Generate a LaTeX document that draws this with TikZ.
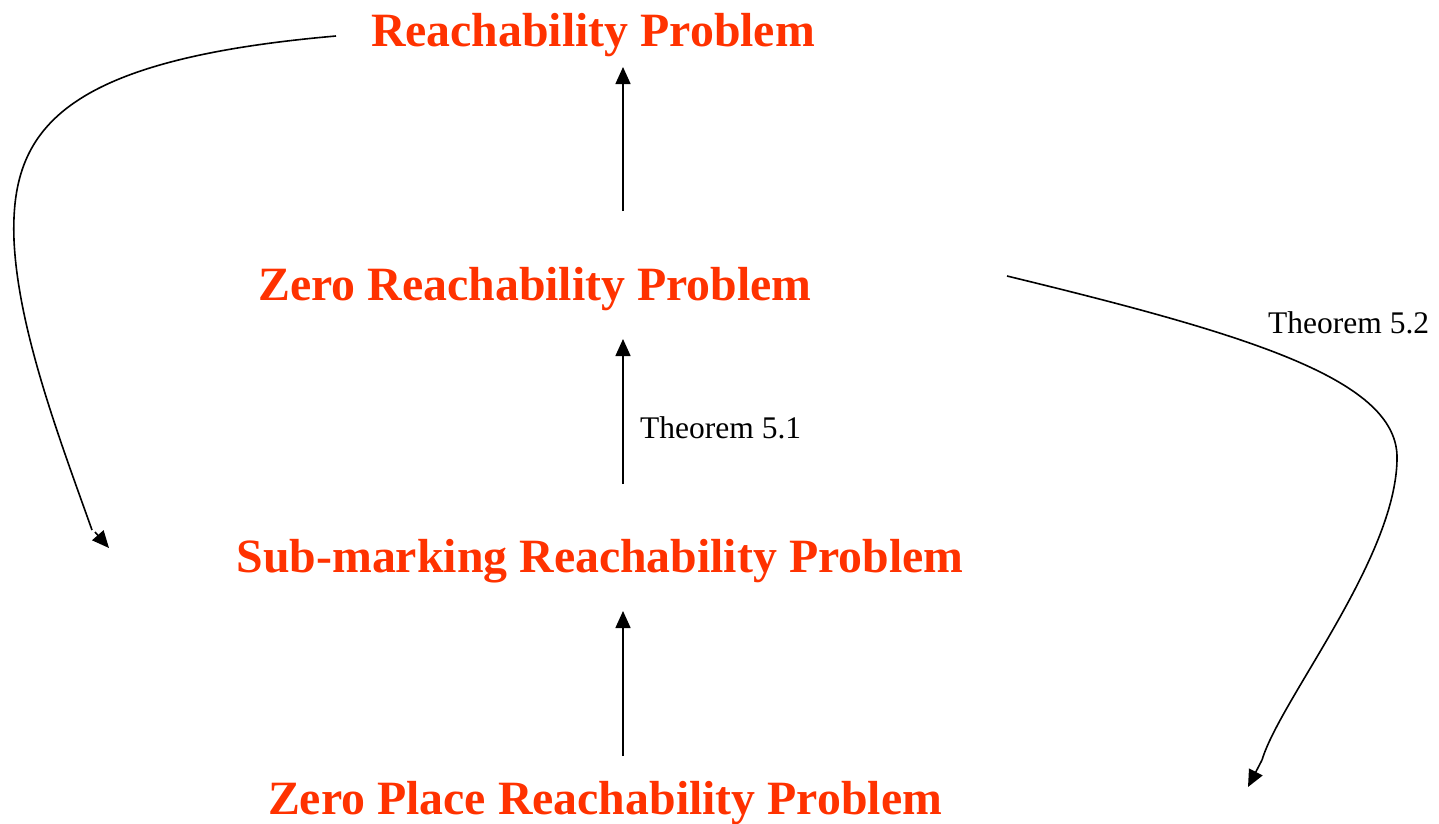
\documentclass[tikz,border=0pt]{standalone}
\usepackage{fontspec}
\setmainfont{Liberation Serif}
\usetikzlibrary{arrows.meta}
\definecolor{probred}{RGB}{255,50,0}
\begin{document}
\begin{tikzpicture}[x=1pt,y=-1pt,
  prob/.style={anchor=base,text=probred,font=\fontsize{47.8}{50}\selectfont\bfseries,inner sep=0pt},
  thm/.style={anchor=base west,font=\fontsize{31.5}{34}\selectfont,inner sep=0pt},
  conn/.style={line width=1.6pt,-{Triangle[length=17pt,width=15pt]}}]
\path[use as bounding box] (0,0) rectangle (1439,823);
\node[prob] (r) at (593,46) {Reachability Problem};
\node[prob] (z) at (535,300) {Zero Reachability Problem};
\node[prob] (s) at (600,572) {Sub-marking Reachability Problem};
\node[prob] (p) at (605,814) {Zero Place Reachability Problem};
\node[thm] (t1) at (640,438) {Theorem 5.1};
\node[thm] (t2) at (1268,333) {Theorem 5.2};
\coordinate (a1s) at (623,211);
\coordinate (a1e) at (623,67);
\coordinate (a2s) at (623,484);
\coordinate (a2e) at (623,339);
\coordinate (a3s) at (623,756);
\coordinate (a3e) at (623,611);
\coordinate (ls) at (336,36);
\coordinate (le) at (109,548);
\coordinate (rs) at (1007,276);
\coordinate (re) at (1248,787);
\draw[conn] (a1s) -- (a1e);
\draw[conn] (a2s) -- (a2e);
\draw[conn] (a3s) -- (a3e);
\draw[line width=1.6pt] (ls) .. controls (60,60) and (10,130) .. (14,240)
  .. controls (18,330) and (60,440) .. (92,530);
\draw[conn] (95,532) -- (le);
\draw[line width=1.6pt] (rs) .. controls (1250,335) and (1400,380) .. (1397,460)
  .. controls (1395,560) and (1280,700) .. (1262,760);
\draw[conn] (1262,760) -- (re);
\end{tikzpicture}
\end{document}
